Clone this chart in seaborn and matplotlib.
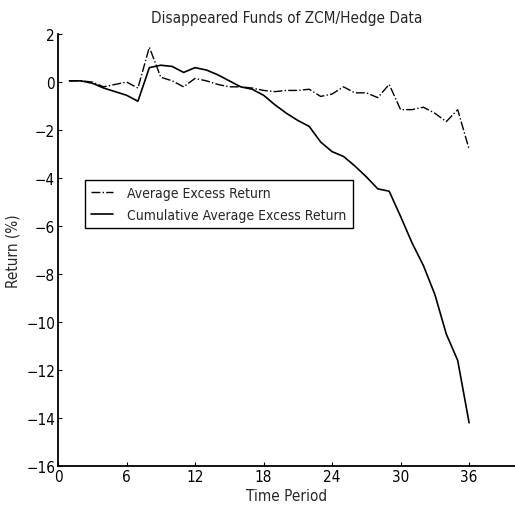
import matplotlib
matplotlib.use("Agg")
import matplotlib.pyplot as plt
import seaborn as sns
import pandas as pd

periods = list(range(1, 37))
avg_excess = [0.05, 0.05, 0.0, -0.2, -0.1, 0.0, -0.25, 1.45, 0.2, 0.05,
              -0.2, 0.15, 0.05, -0.1, -0.2, -0.2, -0.25, -0.35, -0.4, -0.35,
              -0.35, -0.3, -0.6, -0.5, -0.2, -0.45, -0.45, -0.65, -0.1, -1.15,
              -1.15, -1.05, -1.3, -1.65, -1.15, -2.8]
cum_excess = [0.05, 0.05, -0.05, -0.25, -0.4, -0.55, -0.8, 0.6, 0.7, 0.65,
              0.4, 0.6, 0.5, 0.3, 0.05, -0.2, -0.3, -0.55, -0.95, -1.3,
              -1.6, -1.85, -2.5, -2.9, -3.1, -3.5, -3.95, -4.45, -4.55, -5.6,
              -6.7, -7.65, -8.85, -10.5, -11.6, -14.2]
x_ticks = [0, 6, 12, 18, 24, 30, 36]
y_ticks = [2, 0, -2, -4, -6, -8, -10, -12, -14, -16]
title = "Disappeared Funds of ZCM/Hedge Data"
xlabel = "Time Period"
ylabel = "Return (%)"
labels = ["Average Excess Return", "Cumulative Average Excess Return"]

sns.set_style("white")
plt.rcParams['font.family'] = ['DejaVu Sans']
plt.rcParams['font.stretch'] = 'condensed'

df = pd.DataFrame({"period": periods, "avg": avg_excess, "cum": cum_excess})

fig = plt.figure(figsize=(5.15, 5.10), dpi=100)
ax = fig.add_axes([0.1126, 0.0843, 0.887, 0.847])

sns.lineplot(data=df, x="period", y="avg", ax=ax, color="black",
             linestyle="-.", linewidth=1.0, label=labels[0])
sns.lineplot(data=df, x="period", y="cum", ax=ax, color="black",
             linestyle="-", linewidth=1.2, label=labels[1])

ax.set_xlim(0, 40)
ax.set_ylim(-16, 2)
ax.set_xticks(x_ticks)
ax.set_yticks(y_ticks)
ax.tick_params(direction="in", length=3, width=0.8, labelsize=11, colors="black",
               left=True, bottom=True, pad=2)
for s in ["top", "right"]:
    ax.spines[s].set_visible(False)
for s in ["left", "bottom"]:
    ax.spines[s].set_color("black")
    ax.spines[s].set_linewidth(1.3)

ax.set_title(title, fontsize=11, pad=9)
ax.set_xlabel(xlabel, fontsize=11, labelpad=3)
ax.set_ylabel(ylabel, fontsize=11, labelpad=4)

leg = ax.legend(loc="upper left", bbox_to_anchor=(0.059, 0.662), fontsize=10,
                frameon=True, fancybox=False, edgecolor="black", framealpha=1,
                borderpad=0.45, handlelength=1.6, handletextpad=1.0,
                labelspacing=0.55, borderaxespad=0)
leg.get_frame().set_linewidth(1.0)

fig.savefig("out.png", dpi=100)
